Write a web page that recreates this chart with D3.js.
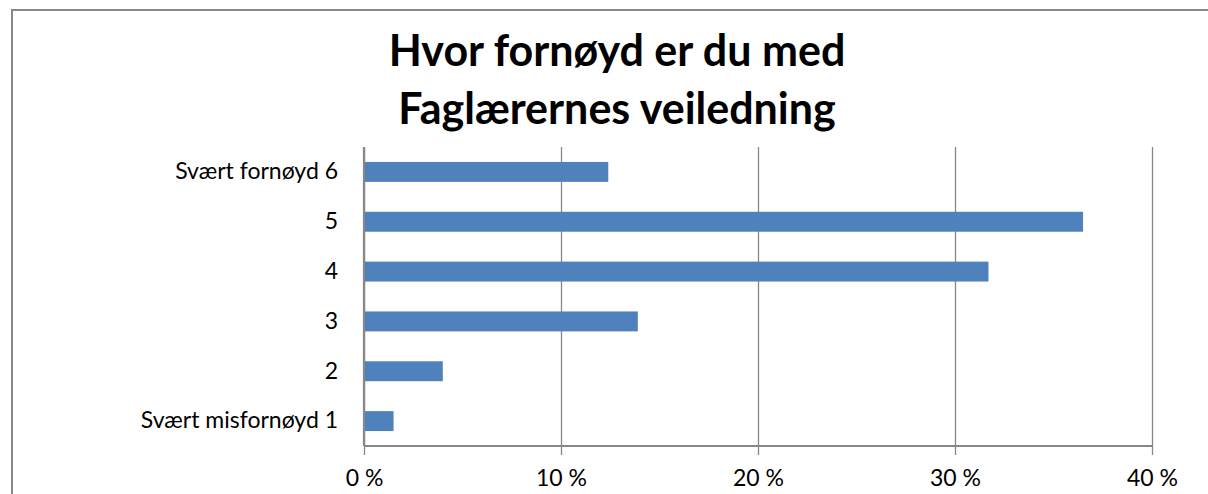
<!DOCTYPE html>
<html>
<head>
<meta charset="utf-8">
<script src="https://cdn.jsdelivr.net/npm/d3@7"></script>
<style>
  body { margin: 0; background: #fff; }
  svg text { font-family: Lato, 'Open Sans', sans-serif; fill: #000; }
</style>
</head>
<body>
<svg width="1208" height="494"></svg>
<script>
const categories = ['Svært fornøyd 6', '5', '4', '3', '2', 'Svært misfornøyd 1'];
const values = [12.4, 36.5, 31.7, 13.9, 4.0, 1.5];
const xTicks = [0, 10, 20, 30, 40];
const titleLines = ['Hvor fornøyd er du med', 'Faglærernes veiledning'];

const svg = d3.select('svg');
const width = +svg.attr('width');
const height = +svg.attr('height');

const data = categories.map((c, i) => ({ category: c, value: values[i] }));

const margin = { top: 147, right: 56, bottom: 48, left: 364 };
const innerWidth = width - margin.left - margin.right;
const innerHeight = height - margin.top - margin.bottom;

// chart border
svg.append('rect')
  .attr('x', 12).attr('y', 10)
  .attr('width', width + 20).attr('height', height + 20)
  .attr('fill', 'none')
  .attr('stroke', '#878787')
  .attr('stroke-width', 2);

const g = svg.append('g')
  .attr('transform', `translate(${margin.left}, ${margin.top})`);

const xScale = d3.scaleLinear()
  .domain([0, 40])
  .range([0, innerWidth]);

const yScale = d3.scaleBand()
  .domain(categories)
  .range([0, innerHeight])
  .paddingInner(0.6)
  .paddingOuter(0.3);

// gridlines + ticks
const xAxis = d3.axisBottom(xScale)
  .tickValues(xTicks)
  .tickSize(-innerHeight)
  .tickFormat(d => d + ' %')
  .tickPadding(0);

const xAxisGroup = g.append('g')
  .attr('transform', `translate(0, ${innerHeight})`)
  .call(xAxis);
xAxisGroup.select('.domain').remove();
xAxisGroup.selectAll('.tick line')
  .attr('y2', -innerHeight)
  .attr('y1', 9)
  .attr('stroke', '#878787')
  .attr('stroke-width', 1.3);
xAxisGroup.selectAll('.tick text')
  .attr('y', 40)
  .attr('dy', 0)
  .style('font-size', '23px');

// bars
g.selectAll('rect.bar').data(data)
  .enter().append('rect')
  .attr('class', 'bar')
  .attr('x', 0)
  .attr('y', d => yScale(d.category))
  .attr('width', d => xScale(d.value))
  .attr('height', yScale.bandwidth())
  .attr('fill', '#4F81BD');

// axis lines
g.append('line')
  .attr('x1', 0).attr('x2', innerWidth)
  .attr('y1', innerHeight).attr('y2', innerHeight)
  .attr('stroke', '#878787').attr('stroke-width', 2.2);
g.append('line')
  .attr('x1', 0).attr('x2', 0)
  .attr('y1', 0).attr('y2', innerHeight)
  .attr('stroke', '#878787').attr('stroke-width', 2.2);

// category labels
const yAxisGroup = g.append('g')
  .call(d3.axisLeft(yScale).tickSize(0).tickPadding(26));
yAxisGroup.select('.domain').remove();
yAxisGroup.selectAll('.tick text')
  .style('font-size', '23px');

// title
svg.append('text')
  .attr('x', 617)
  .attr('y', 66)
  .style('text-anchor', 'middle')
  .style('font-size', '43px')
  .style('font-weight', 'bold')
  .selectAll('tspan').data(titleLines)
  .enter().append('tspan')
  .attr('x', 617)
  .attr('dy', (d, i) => i === 0 ? 0 : 58)
  .text(d => d);
</script>
</body>
</html>
